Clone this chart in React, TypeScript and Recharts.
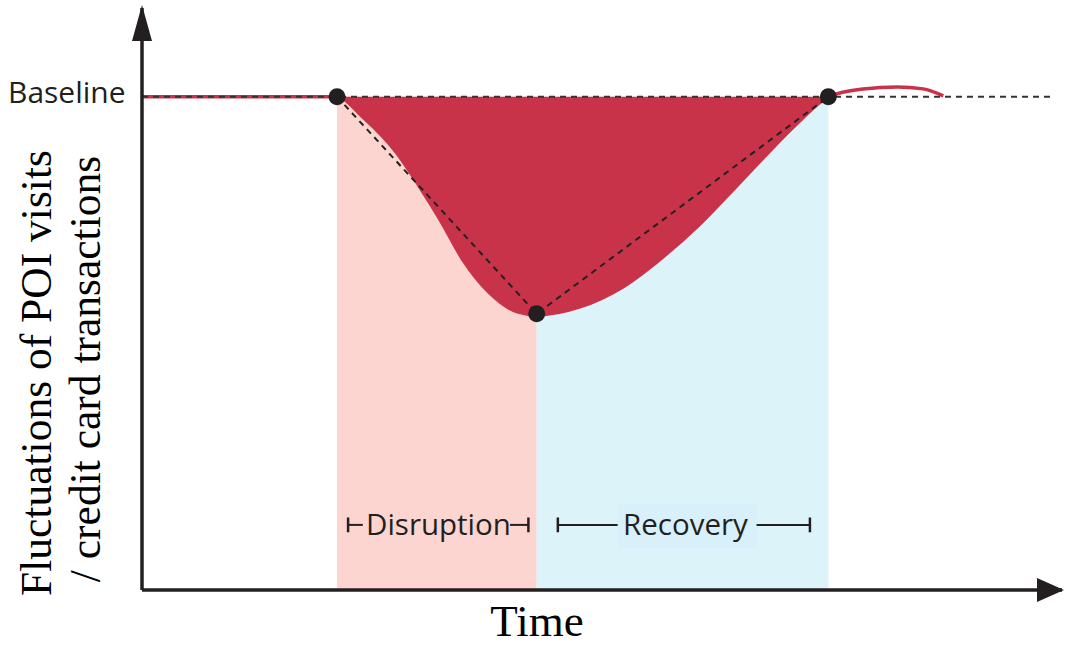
import React from "react";
import {
  ComposedChart,
  Area,
  Line,
  XAxis,
  YAxis,
  ReferenceArea,
  ReferenceLine,
  ReferenceDot,
} from "recharts";

// time axis runs 0..100, activity level: baseline = 100
const timeSteps = [0, 10, 21.2, 24.0, 27.7, 30.2, 32.4, 34.9, 37.8, 40.8, 42.9, 47.6, 52.3, 56.6, 60.3, 63.9, 67.5, 71.2, 74.6, 78.4, 82.1, 84.9, 87.1];
const activity = [100, 100, 100, 95.9, 88.6, 81.7, 75.1, 66.9, 60.2, 56.4, 55.8, 57.4, 61.5, 67.5, 73.6, 80.5, 87.6, 94.6, 100, 101.6, 102.0, 101.6, 100.2];

const BASELINE = 100;
const disruptionStart = 21.2;
const troughTime = 42.9;
const troughLevel = 56;
const recoveryEnd = 74.6;

const keyTimes = [disruptionStart, troughTime, recoveryEnd];
const keyLevels = [BASELINE, troughLevel, BASELINE];

// bracket spans under the labels
const bracketLevel = 13.2;
const disruptionBracket = [22.4, 24.0, 40.0, 42.0];
const recoveryBracket = [45.2, 51.7, 66.8, 72.6];

const curveData = timeSteps.map((t, i) => ({
  t,
  level: activity[i],
  dip: t >= 10 && t <= recoveryEnd ? activity[i] : null,
}));

const keyData = keyTimes.map((t, i) => ({ t, level: keyLevels[i] }));

const RED = "#c8334a";
const INK = "#231f20";

const UpArrow = (props: any) => {
  const { cx, cy } = props;
  return <path d={`M${cx},${cy - 3} L${cx - 10},${cy + 33} L${cx + 10},${cy + 33} Z`} fill={INK} />;
};

const RightArrow = (props: any) => {
  const { cx, cy } = props;
  return <path d={`M${cx + 2},${cy} L${cx - 25},${cy - 12} L${cx - 25},${cy + 12} Z`} fill={INK} />;
};

const seg = (x1: number, y1: number, x2: number, y2: number) => [
  { x: x1, y: y1 },
  { x: x2, y: y2 },
];

function bracket(span: number[], key: string) {
  const [a, b, c, d] = span;
  const tick = 1.5;
  return [
    <ReferenceLine key={key + "a"} segment={seg(a, bracketLevel, b, bracketLevel)} stroke={INK} strokeWidth={2} />,
    <ReferenceLine key={key + "b"} segment={seg(c, bracketLevel, d, bracketLevel)} stroke={INK} strokeWidth={2} />,
    <ReferenceLine key={key + "c"} segment={seg(a, bracketLevel - tick, a, bracketLevel + tick)} stroke={INK} strokeWidth={2.5} />,
    <ReferenceLine key={key + "d"} segment={seg(d, bracketLevel - tick, d, bracketLevel + tick)} stroke={INK} strokeWidth={2.5} />,
  ];
}

export default function App() {
  return (
    <div style={{ position: "absolute", left: 0, top: 0, width: 1066, height: 645, background: "#fff" }}>
      <ComposedChart
        width={1066}
        height={645}
        margin={{ top: 8, right: 4, left: 142, bottom: 55 }}
      >
        <XAxis type="number" dataKey="t" domain={[0, 100]} hide allowDataOverflow />
        <YAxis type="number" domain={[0, 118]} hide allowDataOverflow />

        <ReferenceArea x1={disruptionStart} x2={troughTime} y1={0} y2={BASELINE} fill="#fdd5d0" fillOpacity={1} stroke="none" />
        <ReferenceArea x1={troughTime} x2={recoveryEnd} y1={0} y2={BASELINE} fill="#dbf3f9" fillOpacity={1} stroke="none" />
        <ReferenceArea x1={51.7} x2={66.8} y1={8.5} y2={17.6} fill="#d8f0f9" fillOpacity={1} stroke="none" />

        <Area
          data={curveData}
          dataKey="dip"
          type="monotone"
          baseValue={BASELINE}
          fill={RED}
          fillOpacity={1}
          stroke="none"
          isAnimationActive={false}
          connectNulls={false}
        />
        <Line
          data={curveData}
          dataKey="level"
          type="monotone"
          stroke={RED}
          strokeWidth={3.5}
          dot={false}
          isAnimationActive={false}
        />

        <ReferenceLine
          segment={seg(0, BASELINE, 99.2, BASELINE)}
          stroke="#333"
          strokeWidth={2}
          strokeDasharray="6 5"
        />
        <Line
          data={keyData}
          dataKey="level"
          type="linear"
          stroke="#222"
          strokeWidth={2}
          strokeDasharray="6 5"
          dot={{ r: 8.5, fill: INK, stroke: "none" }}
          isAnimationActive={false}
        />

        {bracket(disruptionBracket, "dis")}
        {bracket(recoveryBracket, "rec")}

        <ReferenceLine x={0} stroke={INK} strokeWidth={3.5} />
        <ReferenceLine y={0} stroke={INK} strokeWidth={3.5} />
        <ReferenceDot x={0} y={118} r={1} ifOverflow="visible" shape={UpArrow} />
        <ReferenceDot x={100} y={0} r={1} ifOverflow="visible" shape={RightArrow} />
      </ComposedChart>

      <svg
        width={1066}
        height={645}
        style={{ position: "absolute", left: 0, top: 0, pointerEvents: "none" }}
      >
        <g fontFamily="'Open Sans', sans-serif" fill={INK}>
          <text x={8} y={103} fontSize={30}>Baseline</text>
          <text x={366} y={535} fontSize={29.5}>Disruption</text>
          <text x={623} y={535} fontSize={29.5}>Recovery</text>
        </g>
        <g fontFamily="'Liberation Serif', serif" fontSize={43.5} fill="#000">
          <text transform="translate(51,373) rotate(-90)" textAnchor="middle">Fluctuations of POI visits</text>
          <text transform="translate(100,369) rotate(-90)" textAnchor="middle">/ credit card transactions</text>
          <text x={537} y={636} fontSize={45} textAnchor="middle">Time</text>
        </g>
      </svg>
    </div>
  );
}
